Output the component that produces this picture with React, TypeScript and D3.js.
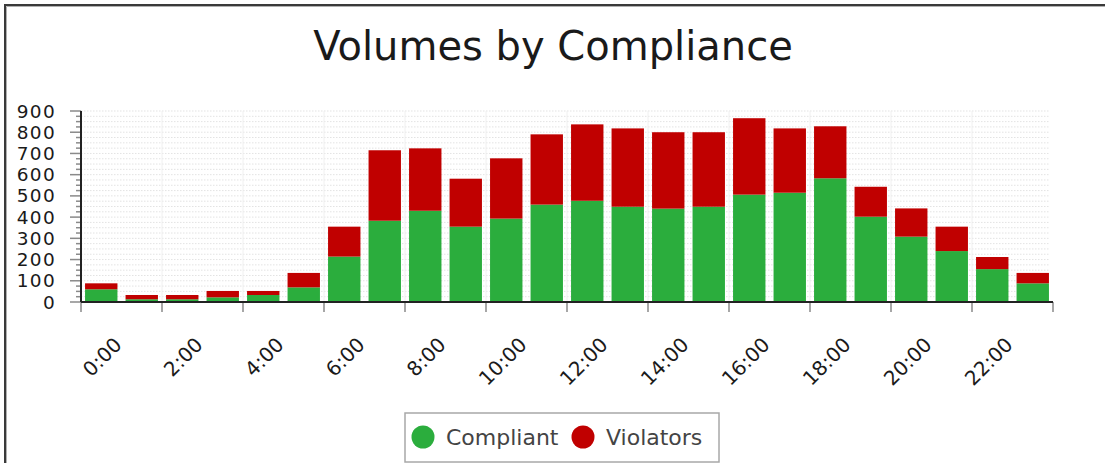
import React from "react";
import * as d3 from "d3";

const hours: number[] = d3.range(24);
const compliant: number[] = [60, 13, 13, 22, 33, 69, 214, 383, 430, 355, 393, 459, 477, 449, 440, 449, 506, 515, 583, 402, 308, 240, 155, 88];
const violators: number[] = [28, 20, 20, 30, 19, 68, 141, 332, 294, 226, 284, 331, 360, 369, 360, 351, 360, 303, 245, 141, 133, 115, 57, 49];
const xTickHours: number[] = [0, 2, 4, 6, 8, 10, 12, 14, 16, 18, 20, 22, 24];
const xTickLabels: string[] = ["0:00", "2:00", "4:00", "6:00", "8:00", "10:00", "12:00", "14:00", "16:00", "18:00", "20:00", "22:00", ""];
const yMajorTicks: number[] = [0, 100, 200, 300, 400, 500, 600, 700, 800, 900];
const seriesNames: string[] = ["Compliant", "Violators"];
const seriesColors: string[] = ["#2bad3d", "#c00000"];
const title = "Volumes by Compliance";

const W = 1105;
const H = 463;
const FONT = "DejaVu Sans, Verdana, sans-serif";

export default function App() {
  const left = 81, right = 1053, top = 111, bottom = 302;
  const xLin = d3.scaleLinear().domain([0, 24]).range([left, right]);
  const xBand = d3.scaleBand<number>().domain(hours).range([left, right]).paddingInner(0.2).paddingOuter(0.1);
  const y = d3.scaleLinear().domain([0, 900]).range([bottom, top]);
  const minor = d3.range(0, 901, 25);

  const stacked = d3.stack<number>().keys(["c", "v"]).value((i, k) => (k === "c" ? compliant[i] : violators[i]))(hours);

  return (
    <svg width={W} height={H} style={{ position: "absolute", left: 0, top: 0 }} fontFamily={FONT}>
      <rect x={0} y={0} width={W} height={H} fill="#fff" />
      {/* frame */}
      <path d={`M5,${H + 5} L5,5 L${W + 5},5`} fill="none" stroke="#3a3a3a" strokeWidth={2} />
      <path d={`M6.5,${H + 5} L6.5,6.5 L${W + 5},6.5`} fill="none" stroke="#b0b0b0" strokeWidth={1} />

      <text x={553} y={60} textAnchor="middle" fontSize={40} fill="#1a1a1a">{title}</text>

      {/* grid */}
      {minor.map((v) => (
        <line key={"hg" + v} x1={left} x2={right - 3} y1={y(v)} y2={y(v)} stroke="#e3e3e3" strokeWidth={1} strokeDasharray="1.5 1.5" />
      ))}
      {xTickHours.slice(1, -1).map((h) => (
        <line key={"vg" + h} x1={xLin(h)} x2={xLin(h)} y1={top} y2={bottom} stroke="#f0f0f0" strokeWidth={1} />
      ))}

      {/* bars */}
      {stacked.map((layer, si) =>
        layer.map((d, i) => (
          <rect key={si + "-" + i} x={xBand(hours[i])} width={xBand.bandwidth()} y={y(d[1])} height={y(d[0]) - y(d[1])} fill={seriesColors[si]} />
        ))
      )}

      {/* y axis */}
      {minor.map((v) => (
        <line key={"yt" + v} x1={v % 100 === 0 ? left - 11 : left - 5} x2={left} y1={y(v)} y2={y(v)} stroke="#8a8a8a" strokeWidth={1.5} />
      ))}
      <line x1={left} x2={left} y1={top} y2={bottom} stroke="#222" strokeWidth={2} />
      {yMajorTicks.map((v) => (
        <text key={"yl" + v} x={56} y={y(v)} textAnchor="end" dominantBaseline="central" fontSize={18.5} letterSpacing={1.3} fill="#1a1a1a">{v}</text>
      ))}

      {/* x axis */}
      {xTickHours.map((h) => (
        <line key={"xt" + h} x1={xLin(h)} x2={xLin(h)} y1={bottom} y2={bottom + 10} stroke="#8a8a8a" strokeWidth={1.5} />
      ))}
      <line x1={left} x2={right} y1={bottom} y2={bottom} stroke="#222" strokeWidth={2} />
      {xTickHours.map((h, i) => {
        const ax = xLin(h) + 37;
        const ay = 341;
        return (
          <text key={"xl" + h} x={ax} y={ay} textAnchor="end" dominantBaseline="central" fontSize={20} fill="#1a1a1a" transform={`rotate(-45 ${ax} ${ay})`}>
            {xTickLabels[i]}
          </text>
        );
      })}

      {/* legend */}
      <rect x={405} y={413} width={314} height={49} fill="#fff" stroke="#a8a8a8" strokeWidth={1.5} />
      <circle cx={423} cy={437} r={11.5} fill={seriesColors[0]} />
      <text x={446} y={444.5} fontSize={22} fill="#444">{seriesNames[0]}</text>
      <circle cx={583} cy={437} r={11.5} fill={seriesColors[1]} />
      <text x={606} y={444.5} fontSize={22} fill="#444">{seriesNames[1]}</text>
    </svg>
  );
}
